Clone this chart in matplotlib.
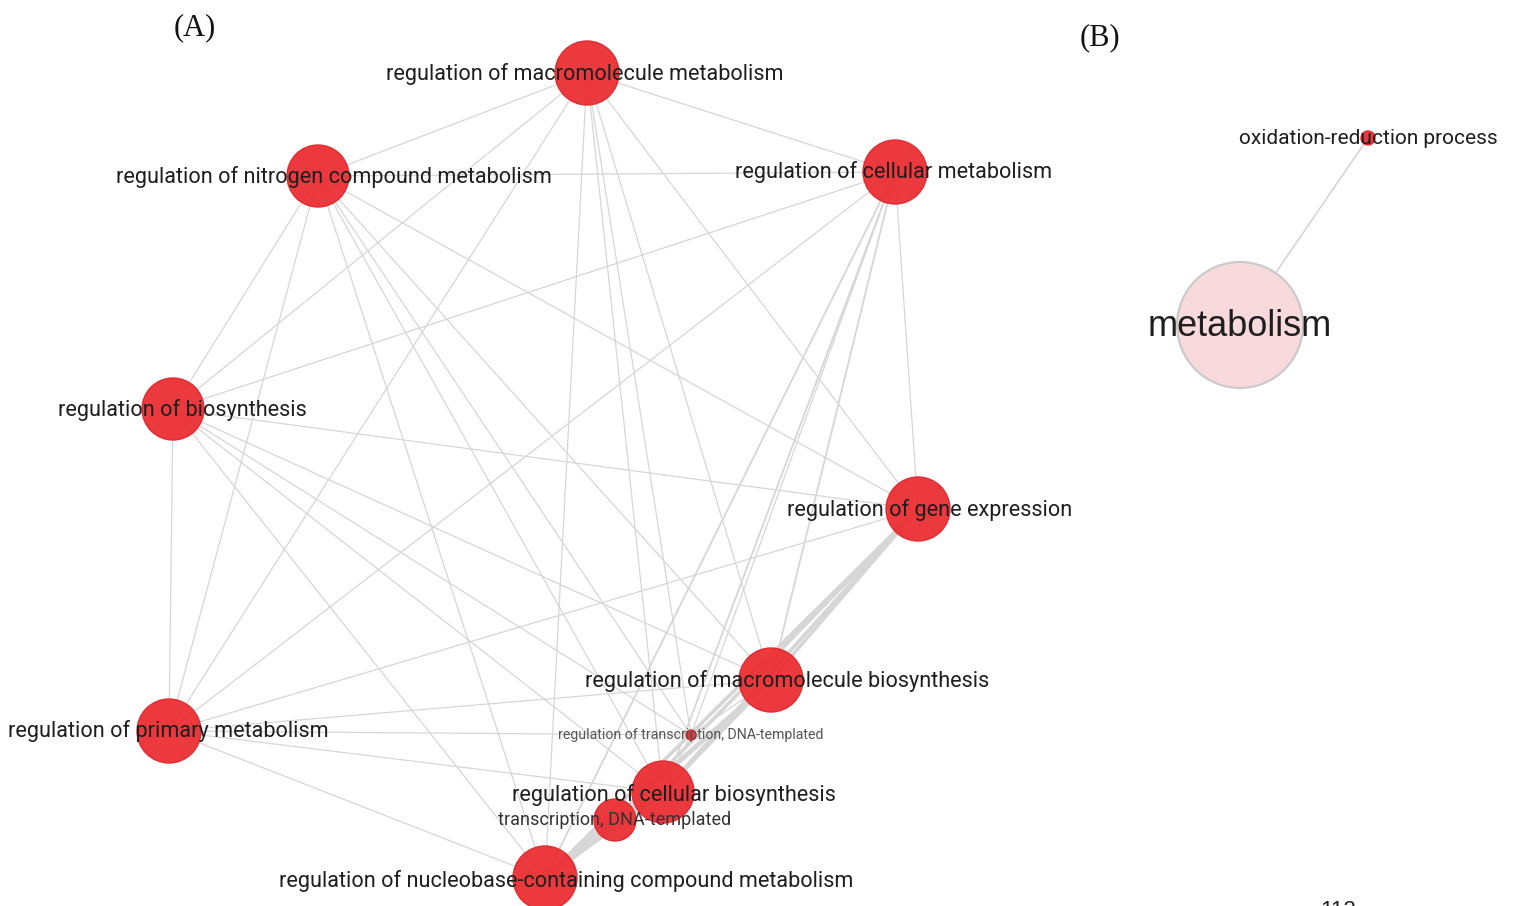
import matplotlib
matplotlib.use("Agg")
import matplotlib.pyplot as plt
from matplotlib.patches import Circle

# ---------------- data ----------------
node_names = [
    "regulation of macromolecule metabolism",
    "regulation of nitrogen compound metabolism",
    "regulation of cellular metabolism",
    "regulation of biosynthesis",
    "regulation of gene expression",
    "regulation of macromolecule biosynthesis",
    "regulation of transcription, DNA-templated",
    "regulation of primary metabolism",
    "regulation of cellular biosynthesis",
    "transcription, DNA-templated",
    "regulation of nucleobase-containing compound metabolism",
    "oxidation-reduction process",
    "metabolism",
]
node_x = [587, 318, 895, 173, 918, 771, 691, 169, 663, 615, 545, 1368, 1240]
node_y = [73, 176, 172, 409, 509, 680, 735, 731, 792, 820, 878, 138, 325]
node_r = [32, 31, 32, 31, 32, 32, 5, 32, 31, 21, 32, 7, 63]
label_x = [585, 334, 894, 182, 930, 787, 691, 168, 674, 615, 566, 1368, 1240]
label_y = [74, 177, 172, 410, 510, 681, 735, 731, 795, 820, 881, 139, 326]
label_size = [15.6, 15.6, 15.6, 15.6, 15.6, 15.6, 10.2, 15.6, 15.6, 13.0, 15.6, 15.0, 26]
label_color = ["#1e1e1e"] * 6 + ["#555555"] + ["#1e1e1e"] * 2 + ["#333333"] + ["#1e1e1e"] * 3

edges_src = [0, 0, 0, 0, 0, 0, 0, 0, 0,
             1, 1, 1, 1, 1, 1, 1, 1,
             2, 2, 2, 2, 2, 2, 2,
             3, 3, 3, 3, 3, 3,
             4, 4, 4, 4, 4,
             5, 5, 5, 5,
             6, 6, 6,
             7, 7,
             8,
             9, 9, 9, 9, 11]
edges_dst = [1, 2, 3, 4, 5, 6, 7, 8, 10,
             2, 3, 4, 5, 6, 7, 8, 10,
             3, 4, 5, 6, 7, 8, 10,
             4, 5, 6, 7, 8, 10,
             5, 6, 7, 8, 10,
             6, 7, 8, 10,
             7, 8, 10,
             8, 10,
             10,
             4, 5, 8, 10, 12]
edges_w = [0.9, 0.9, 0.9, 0.9, 0.9, 0.9, 0.9, 0.9, 0.9,
           0.9, 0.9, 0.9, 0.9, 0.9, 0.9, 0.9, 0.9,
           0.9, 0.9, 1.3, 0.9, 0.9, 1.3, 1.3,
           0.9, 0.9, 0.9, 0.9, 0.9, 0.9,
           2.6, 0.9, 0.9, 2.6, 2.6,
           0.9, 0.9, 2.6, 2.6,
           0.9, 0.9, 0.9,
           0.9, 0.9,
           3.0,
           2.6, 2.6, 3.5, 5.5, 1.2]

panel_labels = ["(A)", "(B)"]
panel_x = [195, 1100]
panel_y = [28, 38]

# ---------------- figure ----------------
W, H = 1513, 906
fig = plt.figure(figsize=(W / 100, H / 100), dpi=100)
ax = fig.add_axes([0, 0, 1, 1])
ax.set_xlim(0, W)
ax.set_ylim(H, 0)
ax.set_aspect("equal")
ax.axis("off")

for s, d, w in zip(edges_src, edges_dst, edges_w):
    ax.plot([node_x[s], node_x[d]], [node_y[s], node_y[d]],
            color="#d6d6d6", lw=w, solid_capstyle="round", zorder=1)

for i, name in enumerate(node_names):
    if name == "metabolism":
        fc, ec, lw = "#f8d9dc", "#c8c8c8", 1.5
    else:
        fc, ec, lw = "#ec3236", "#e02a2e", 1.0
    ax.add_patch(Circle((node_x[i], node_y[i]), node_r[i], facecolor=fc,
                        edgecolor=ec, lw=lw, alpha=0.97, zorder=2))

for i, name in enumerate(node_names):
    fam = ["Liberation Sans"] if name == "metabolism" else ["Roboto", "DejaVu Sans"]
    ax.text(label_x[i], label_y[i], name, ha="center", va="center",
            fontsize=label_size[i], color=label_color[i], family=fam, zorder=3)

for t, x, y in zip(panel_labels, panel_x, panel_y):
    ax.text(x, y, t, ha="center", va="center", fontsize=22,
            family="Liberation Serif", color="#111111")

# page number, cut off by the lower edge as in the source image
ax.text(1338, 911, "112", ha="center", va="center", fontsize=16,
        family="Liberation Sans", color="#222222")

fig.savefig("out.png", dpi=100)
